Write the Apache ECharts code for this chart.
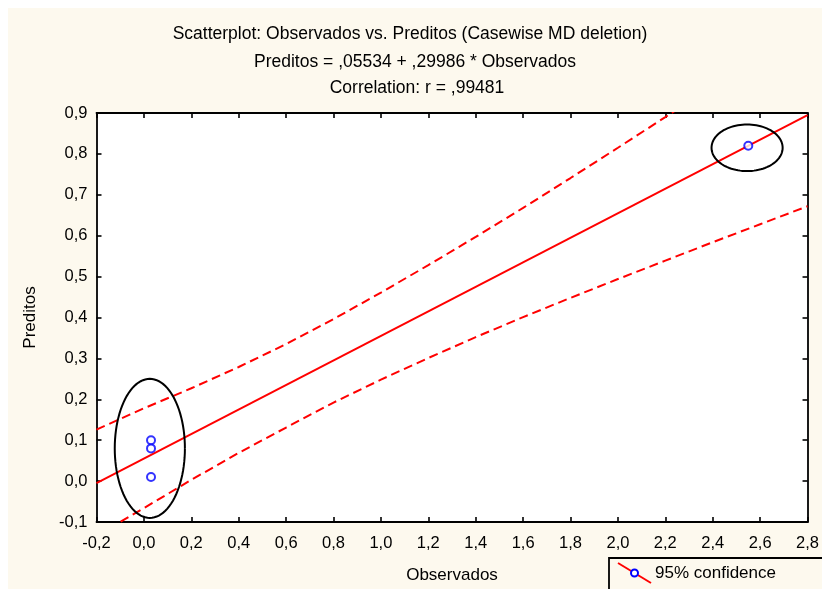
<!DOCTYPE html>
<html><head><meta charset="utf-8">
<script src="https://cdn.jsdelivr.net/npm/echarts@6/dist/echarts.min.js"></script>
<style>html,body{margin:0;padding:0;background:#fff}#c{width:822px;height:589px}</style>
</head><body><div id="c"></div>
<script>
// ---- data ----
const titleLines = [
  'Scatterplot: Observados vs. Preditos (Casewise MD deletion)',
  'Preditos = ,05534 + ,29986 * Observados',
  'Correlation: r = ,99481'
];
const xName = 'Observados';
const yName = 'Preditos';
const legendLabel = '95% confidence';
const xRange = [-0.2, 2.8];
const xStep = 0.2;
const yRange = [-0.1, 0.9];
const yStep = 0.1;
const observados = [0.03, 0.03, 0.03, 2.55];
const preditos   = [0.10, 0.08, 0.01, 0.82];
const fitX = [-0.2, 2.8];
const fitY = [-0.005, 0.895];
const bandX     = [-0.2, 0.0, 0.2, 0.4, 0.6, 0.8, 1.0, 1.2, 1.4, 1.6, 1.8, 2.0, 2.2, 2.4, 2.6, 2.8];
const bandUpper = [0.126, 0.178, 0.227, 0.279, 0.335, 0.396, 0.461, 0.528, 0.597, 0.668, 0.741, 0.815, 0.890, 0.966, 1.042, 1.119];
const bandLower = [-0.134, -0.066, 0.003, 0.069, 0.131, 0.192, 0.248, 0.301, 0.352, 0.401, 0.448, 0.494, 0.539, 0.584, 0.628, 0.672];
// ellipses: centre x, centre y, radius x, radius y (data units)
const ellipseCX = [0.025, 2.545];
const ellipseCY = [0.08, 0.815];
const ellipseRX = [0.148, 0.150];
const ellipseRY = [0.170, 0.057];

// ---- build ----
const FONT = 'Liberation Sans';
const CREAM = '#fdf9ee';
const fmt = v => v.toFixed(1).replace('.', ',');
const zip = (a, b) => a.map((v, i) => [v, b[i]]);

const chart = echarts.init(document.getElementById('c'), null, {renderer: 'canvas'});

const baseAxis = (min, max, step) => ({
  type: 'value', min, max, interval: step,
  splitLine: {show: false},
  axisLine: {show: true, onZero: false, lineStyle: {color: '#000', width: 1.8}},
  axisTick: {show: true, inside: true, length: 5, lineStyle: {color: '#000', width: 1.6}},
});

chart.setOption({
  backgroundColor: '#fff',
  animation: false,
  textStyle: {fontFamily: FONT},
  grid: {left: 96.5, right: 13, top: 113, bottom: 65, show: true, backgroundColor: '#fff', borderWidth: 0},
  xAxis: [
    Object.assign(baseAxis(xRange[0], xRange[1], xStep), {
      position: 'bottom',
      name: xName, nameLocation: 'middle', nameGap: 45,
      nameTextStyle: {fontFamily: FONT, fontSize: 17, color: '#000'},
      axisLabel: {formatter: fmt, fontFamily: FONT, fontSize: 16.5, color: '#000', margin: 13}
    }),
    Object.assign(baseAxis(xRange[0], xRange[1], xStep), {
      position: 'top', axisLabel: {show: false}
    })
  ],
  yAxis: [
    Object.assign(baseAxis(yRange[0], yRange[1], yStep), {
      position: 'left',
      name: yName, nameLocation: 'middle', nameGap: 58, nameRotate: 90,
      nameTextStyle: {fontFamily: FONT, fontSize: 17, color: '#000'},
      axisLabel: {formatter: fmt, fontFamily: FONT, fontSize: 16.5, color: '#000', margin: 9}
    }),
    Object.assign(baseAxis(yRange[0], yRange[1], yStep), {
      position: 'right', axisLabel: {show: false}
    })
  ],
  series: [
    {
      type: 'line', data: zip(bandX, bandUpper), symbol: 'none', clip: true,
      lineStyle: {color: '#ff0000', width: 2, type: [9, 5]}, z: 3
    },
    {
      type: 'line', data: zip(bandX, bandLower), symbol: 'none', clip: true,
      lineStyle: {color: '#ff0000', width: 2, type: [9, 5]}, z: 3
    },
    {
      type: 'line', data: zip(fitX, fitY), symbol: 'none', clip: true,
      lineStyle: {color: '#ff0000', width: 2}, z: 3
    },
    {
      type: 'custom', clip: false, z: 4,
      encode: {x: 0, y: 1},
      data: ellipseCX.map((v, i) => [v, ellipseCY[i], ellipseRX[i], ellipseRY[i]]),
      renderItem(params, api) {
        const cx = api.value(0), cy = api.value(1), rx = api.value(2), ry = api.value(3);
        const pts = [];
        for (let k = 0; k <= 96; k++) {
          const a = k / 96 * Math.PI * 2;
          pts.push(api.coord([cx + rx * Math.cos(a), cy + ry * Math.sin(a)]));
        }
        return {type: 'polyline', shape: {points: pts}, style: {stroke: '#000', lineWidth: 2, fill: null}};
      }
    },
    {
      type: 'scatter', data: zip(observados, preditos), symbol: 'circle', symbolSize: 8,
      itemStyle: {color: '#fff', borderColor: '#0000ff', borderWidth: 2}, z: 5
    }
  ],
  graphic: [
    {type: 'rect', z: -10, silent: true, shape: {x: 8, y: 8, width: 830, height: 600}, style: {fill: CREAM}},
    {type: 'text', x: 410, y: 34, style: {text: titleLines[0], font: '17.5px "Liberation Sans"', fill: '#000', align: 'center', verticalAlign: 'middle'}},
    {type: 'text', x: 415, y: 62, style: {text: titleLines[1], font: '17.5px "Liberation Sans"', fill: '#000', align: 'center', verticalAlign: 'middle'}},
    {type: 'text', x: 417, y: 88, style: {text: titleLines[2], font: '17.5px "Liberation Sans"', fill: '#000', align: 'center', verticalAlign: 'middle'}},
    {type: 'rect', shape: {x: 609, y: 558, width: 230, height: 40}, style: {fill: CREAM, stroke: '#000', lineWidth: 1.8}},
    {type: 'line', shape: {x1: 618, y1: 563, x2: 651, y2: 583}, style: {stroke: '#ff0000', lineWidth: 2}},
    {type: 'circle', shape: {cx: 634.5, cy: 573, r: 3.5}, style: {fill: '#fff', stroke: '#0000ff', lineWidth: 2}},
    {type: 'text', x: 655, y: 573, style: {text: legendLabel, font: '17px "Liberation Sans"', fill: '#000', align: 'left', verticalAlign: 'middle'}}
  ]
});
</script></body></html>
